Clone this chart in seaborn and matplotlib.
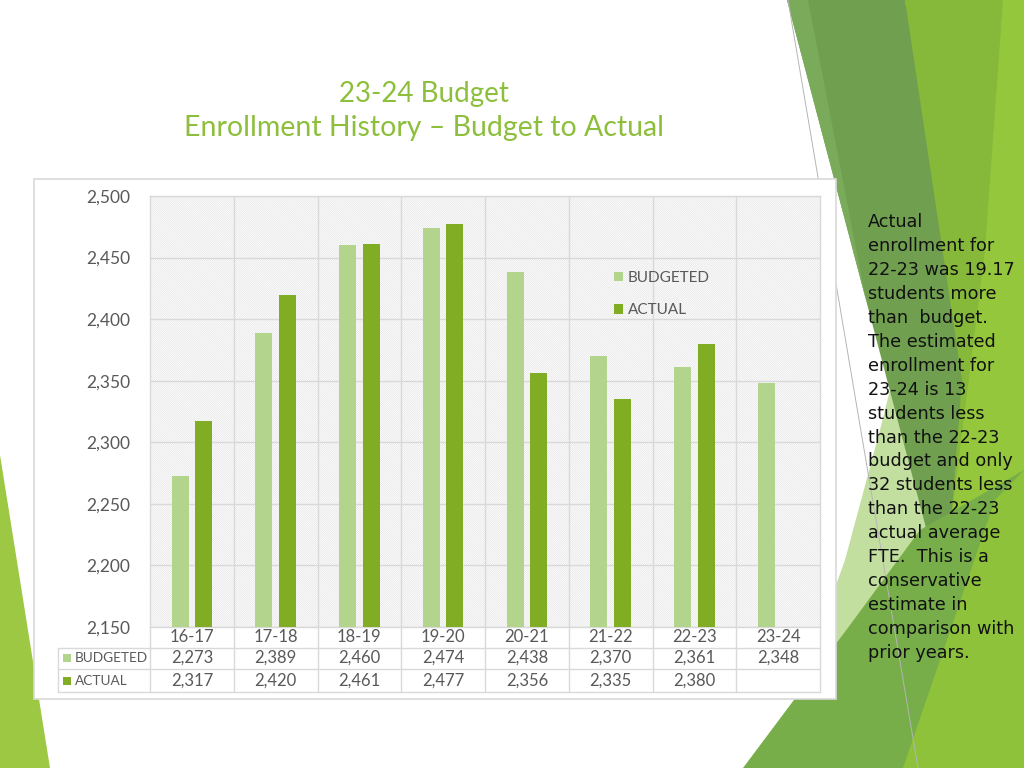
import numpy as np
import pandas as pd
import matplotlib
matplotlib.use("Agg")
import matplotlib.pyplot as plt
import seaborn as sns
from matplotlib.patches import Polygon, Rectangle
from matplotlib.lines import Line2D
from matplotlib.transforms import blended_transform_factory

# ---------------- data ----------------
categories = ["16-17", "17-18", "18-19", "19-20", "20-21", "21-22", "22-23", "23-24"]
budgeted = [2273, 2389, 2460, 2474, 2438, 2370, 2361, 2348]
actual = [2317, 2420, 2461, 2477, 2356, 2335, 2380, np.nan]
series_names = ["BUDGETED", "ACTUAL"]
y_ticks = [2150, 2200, 2250, 2300, 2350, 2400, 2450, 2500]
title_lines = ["23-24 Budget", "Enrollment History \u2013 Budget to Actual"]
note_lines = [
    "Actual", "enrollment for", "22-23 was 19.17", "students more",
    "than  budget.", "The estimated", "enrollment for", "23-24 is 13",
    "students less", "than the 22-23", "budget and only", "32 students less",
    "than the 22-23", "actual average", "FTE.  This is a", "conservative",
    "estimate in", "comparison with", "prior years.",
]

# ---------------- style ----------------
C_BUD = "#b3d48d"
C_ACT = "#80ad24"
C_TITLE = "#8dbf3c"
C_TXT = "#595959"
C_GRID = "#d9d9d9"

sns.set_theme(style="white")
plt.rcParams["font.family"] = ["Lato", "DejaVu Sans"]
plt.rcParams["hatch.linewidth"] = 0.45

W, H = 1024, 768
fig = plt.figure(figsize=(W / 100, H / 100), dpi=100)
fig.patch.set_facecolor("white")


def fy(py):
    return 1 - py / H


# ---------------- background decoration (pixel coords) ----------------
bg = fig.add_axes([0, 0, 1, 1], zorder=0)
bg.set_xlim(0, W)
bg.set_ylim(H, 0)
bg.axis("off")

shapes = [
    ([(770, 768), (845, 560), (880, 430), (905, 330), (965, 600), (905, 768)], "#c3dfa0"),
    ([(905, 0), (1024, 0), (1024, 768), (880, 768), (945, 600)], "#86b83a"),
    ([(1003, 0), (1024, 0), (1024, 768), (920, 768), (985, 250)], "#95c73d"),
    ([(787, 0), (905, 0), (962, 380), (945, 600)], "#70a04f"),
    ([(787, 0), (808, 0), (866, 300), (945, 600)], "#7aab5a"),
    ([(743, 768), (850, 625), (920, 530), (1024, 470), (1024, 768)], "#77ae4a"),
    ([(903, 768), (995, 500), (1024, 470), (1024, 768)], "#8ec23b"),
    ([(0, 455), (50, 768), (0, 768)], "#9dc844"),
]
for pts, col in shapes:
    bg.add_patch(Polygon(pts, closed=True, facecolor=col, edgecolor="none", zorder=1))
bg.plot([788, 918], [0, 768], color="#b5b5b5", lw=0.7, zorder=2)

# chart frame
bg.add_patch(Rectangle((34, 179), 802, 520, facecolor="white", edgecolor=C_GRID, lw=1.2, zorder=10))

# ---------------- main axes ----------------
ax = fig.add_axes([150 / W, fy(627), 670 / W, 431 / H], zorder=2)
ax.patch.set_facecolor("white")
ax.add_patch(Rectangle((0, 0), 1, 1, transform=ax.transAxes, facecolor="white",
                       edgecolor="#e2e2e2", lw=0, hatch="\\" * 16, zorder=0.2))

df = pd.DataFrame({
    "Year": categories * 2,
    "Series": [series_names[0]] * len(categories) + [series_names[1]] * len(categories),
    "Enrollment": budgeted + actual,
})
sns.barplot(data=df, x="Year", y="Enrollment", hue="Series", palette=[C_BUD, C_ACT],
            width=0.56, gap=0.28, errorbar=None, saturation=1, ax=ax, zorder=3,
            linewidth=0, edgecolor="none")

ax.set_xlim(-0.5, len(categories) - 0.5)
ax.set_ylim(y_ticks[0], y_ticks[-1])
ax.set_yticks(y_ticks)
ax.set_yticklabels([f"{v:,}" for v in y_ticks])
ax.tick_params(axis="y", length=0, pad=14.4, labelsize=12.5, labelcolor=C_TXT)
ax.tick_params(axis="x", which="both", length=0, labelbottom=False)
ax.set_xticks(np.arange(0.5, len(categories) - 1, 1), minor=True)
ax.set_axisbelow(True)
ax.yaxis.grid(True, color=C_GRID, lw=1)
ax.xaxis.grid(True, which="minor", color=C_GRID, lw=1)
ax.xaxis.grid(False, which="major")
ax.set_xlabel("")
ax.set_ylabel("")
for s in ax.spines.values():
    s.set_color(C_GRID)
    s.set_linewidth(1)

h, l = ax.get_legend_handles_labels()
ax.legend(h, l, loc="upper left", bbox_to_anchor=(0.693, 0.826), frameon=False,
          fontsize=11, handlelength=0.55, handleheight=0.55, handletextpad=0.35,
          labelspacing=1.2, borderaxespad=0, borderpad=0, labelcolor=C_TXT)

# ---------------- data table under the axes ----------------
tr = blended_transform_factory(ax.transData, fig.transFigure)
n = len(categories)
row_y = [637, 658, 681]
for yl in [648, 669, 692]:
    fig.add_artist(Line2D([58 / W, 820 / W], [fy(yl), fy(yl)], transform=fig.transFigure,
                          color=C_GRID, lw=1, zorder=5))
for xb in np.arange(-0.5, n, 1):
    fig.add_artist(Line2D([xb, xb], [fy(627), fy(692)], transform=tr, color=C_GRID, lw=1, zorder=5))
fig.add_artist(Line2D([58 / W, 58 / W], [fy(648), fy(692)], transform=fig.transFigure,
                      color=C_GRID, lw=1, zorder=5))

for i, c in enumerate(categories):
    fig.text(i, fy(row_y[0]), c, transform=tr, ha="center", va="center",
             fontsize=12, color=C_TXT, zorder=6)
    fig.text(i, fy(row_y[1]), f"{budgeted[i]:,}", transform=tr, ha="center", va="center",
             fontsize=12, color=C_TXT, zorder=6)
    if not np.isnan(actual[i]):
        fig.text(i, fy(row_y[2]), f"{int(actual[i]):,}", transform=tr, ha="center", va="center",
                 fontsize=12, color=C_TXT, zorder=6)

for name, col, yy in zip(series_names, [C_BUD, C_ACT], row_y[1:]):
    fig.add_artist(Rectangle((63 / W, fy(yy + 4)), 8 / W, 8 / H, transform=fig.transFigure,
                             facecolor=col, edgecolor="none", zorder=6))
    fig.text(75 / W, fy(yy), name, ha="left", va="center", fontsize=9.8, color=C_TXT, zorder=6)

# ---------------- titles and note ----------------
fig.text(424 / W, fy(94), title_lines[0], ha="center", va="center", fontsize=20, color=C_TITLE)
fig.text(424 / W, fy(128), title_lines[1], ha="center", va="center", fontsize=20.5, color=C_TITLE)

for k, line in enumerate(note_lines):
    fig.text(868 / W, fy(222 + k * 23.95), line, ha="left", va="center",
             fontsize=12.7, color="#111111", family=["DejaVu Sans"], zorder=6)

fig.savefig("out.png", dpi=100)
